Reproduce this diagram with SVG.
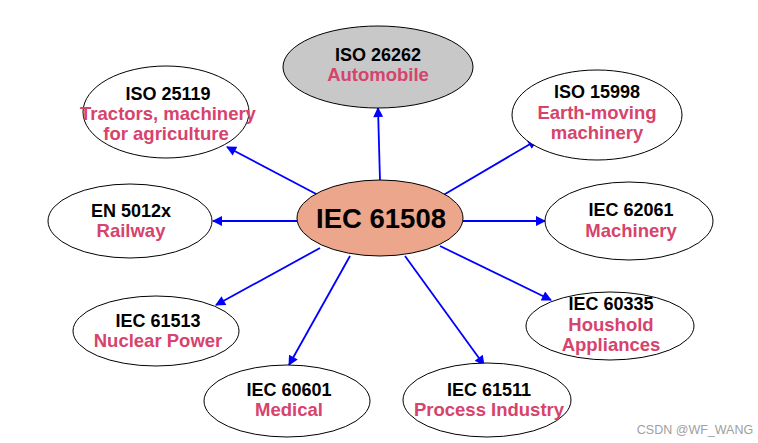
<svg xmlns="http://www.w3.org/2000/svg" width="758" height="443" viewBox="0 0 758 443">
<style>
.n{fill:#fff;stroke:#000;stroke-width:1}
.t{font-family:"Liberation Sans",Arial,sans-serif;font-weight:bold;font-size:18px;text-anchor:middle;fill:#000}
.s{font-family:"Liberation Sans",Arial,sans-serif;font-weight:bold;font-size:18.5px;text-anchor:middle;fill:#d6436c}
.c line{stroke:#0000ff;stroke-width:1.8;marker-end:url(#ah)}
</style>
<defs>
<marker id="ah" viewBox="0 0 10 10" refX="9" refY="5" markerWidth="13" markerHeight="10" orient="auto" markerUnits="userSpaceOnUse">
<path d="M0,0 L10,5 L0,10 z" fill="#0000ff"/>
</marker>
</defs>
<rect width="758" height="443" fill="#fff"/>
<g class="c" id="connectors">
<line x1="380" y1="181" x2="378" y2="108"/>
<line x1="320" y1="196" x2="227" y2="147"/>
<line x1="440" y1="197" x2="537" y2="140"/>
<line x1="297" y1="221" x2="213" y2="221"/>
<line x1="463" y1="221" x2="545" y2="221"/>
<line x1="320" y1="248" x2="216" y2="305"/>
<line x1="440" y1="246" x2="551" y2="300"/>
<line x1="350" y1="256" x2="289" y2="365"/>
<line x1="405" y1="256" x2="484" y2="365"/>
</g>
<g id="iso26262">
<ellipse cx="378" cy="67" rx="95" ry="41" fill="#c8c8c8" stroke="#000" stroke-width="1"/>
<text class="t" x="378" y="61">ISO 26262</text>
<text class="s" x="378" y="81">Automobile</text>
</g>
<g id="iso25119">
<ellipse class="n" cx="166" cy="112" rx="83" ry="46"/>
<text class="t" x="168" y="100">ISO 25119</text>
<text class="s" x="168" y="120">Tractors, machinery</text>
<text class="s" x="166" y="140">for agriculture</text>
</g>
<g id="iso15998">
<ellipse class="n" cx="597" cy="115" rx="85" ry="45"/>
<text class="t" x="597" y="98">ISO 15998</text>
<text class="s" x="597" y="119">Earth-moving</text>
<text class="s" x="597" y="139">machinery</text>
</g>
<g id="en5012x">
<ellipse class="n" cx="130" cy="221" rx="82" ry="37"/>
<text class="t" x="131" y="217">EN 5012x</text>
<text class="s" x="131" y="237">Railway</text>
</g>
<g id="iec61508">
<ellipse cx="380" cy="218" rx="83" ry="38" fill="#eba68c" stroke="#000" stroke-width="1"/>
<text class="t" x="381" y="228" style="font-size:28px" textLength="130" lengthAdjust="spacingAndGlyphs">IEC 61508</text>
</g>
<g id="iec62061">
<ellipse class="n" cx="629" cy="221" rx="84" ry="39"/>
<text class="t" x="631" y="216">IEC 62061</text>
<text class="s" x="631" y="237">Machinery</text>
</g>
<g id="iec61513">
<ellipse class="n" cx="156" cy="331" rx="83" ry="35"/>
<text class="t" x="158" y="327">IEC 61513</text>
<text class="s" x="158" y="347">Nuclear Power</text>
</g>
<g id="iec60335">
<ellipse class="n" cx="610" cy="326" rx="84" ry="34"/>
<text class="t" x="611" y="310">IEC 60335</text>
<text class="s" x="611" y="331">Houshold</text>
<text class="s" x="611" y="351">Appliances</text>
</g>
<g id="iec60601">
<ellipse class="n" cx="287" cy="401" rx="83" ry="36"/>
<text class="t" x="289" y="396">IEC 60601</text>
<text class="s" x="289" y="416">Medical</text>
</g>
<g id="iec61511">
<ellipse class="n" cx="487" cy="400" rx="84" ry="37"/>
<text class="t" x="489" y="396">IEC 61511</text>
<text class="s" x="489" y="416">Process Industry</text>
</g>
<text x="695" y="434" font-family="'Liberation Sans',Arial,sans-serif" font-size="12.5" fill="#a0a0a0" text-anchor="middle">CSDN @WF_WANG</text>
</svg>
